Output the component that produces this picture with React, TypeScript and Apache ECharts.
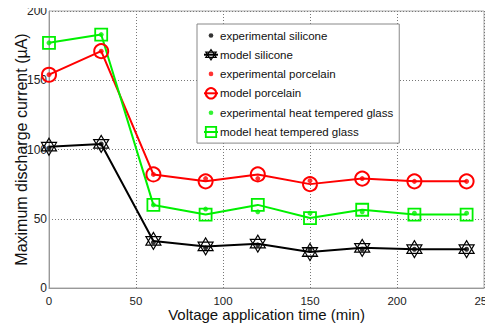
import React, { useEffect, useRef } from "react";
import * as echarts from "echarts";

const times = [0, 30, 60, 90, 120, 150, 180, 210, 240];
const expSilicone = [101, 104, 33, 29, 31, 28, 28, 28, 28];
const modelSilicone = [102, 104, 34, 30, 32, 26, 29, 28, 28];
const expPorcelain = [154, 171, 82, 79, 79, 77.5, 79, 77, 77];
const modelPorcelain = [154, 171, 82, 77, 82, 75, 79, 77, 77];
const expGlass = [177, 183, 60, 57, 55, 54, 55, 54, 54];
const modelGlass = [177, 183, 60, 53, 60, 50.5, 56.5, 53, 53];
const xTicks = [0, 50, 100, 150, 200, 250];
const yTicks = [0, 50, 100, 150, 200];

const STAR = "path://M0,-10 L8.66,5 L-8.66,5 Z M0,10 L8.66,-5 L-8.66,-5 Z";
const DOT_ICON =
  "path://M0,0 M14,14 M9.5,7 A2.5,2.5 0 1 1 4.5,7 A2.5,2.5 0 1 1 9.5,7 Z";

const BLACK = "#000";
const RED = "#ff0000";
const GREEN = "#00f000";
const CLEAR = "rgba(255,255,255,0)";

const pairs = (ys: number[]) => times.map((t, i) => [t, ys[i]]);

export default function App() {
  const ref = useRef<HTMLDivElement>(null);
  useEffect(() => {
    if (!ref.current) return;
    const chart = echarts.init(ref.current, null, { renderer: "svg" });
    const font = "Arial, 'Liberation Sans', sans-serif";
    const expSeries = (name: string, ys: number[], color: string) => ({
      name,
      type: "scatter",
      data: pairs(ys),
      symbol: "circle",
      symbolSize: 5,
      itemStyle: { color },
      z: 5,
    });
    const modelSeries = (
      name: string,
      ys: number[],
      color: string,
      symbol: string,
      size: any,
      bw: number
    ) => ({
      name,
      type: "line",
      data: pairs(ys),
      symbol,
      symbolSize: size,
      showAllSymbol: true,
      lineStyle: { color, width: 2 },
      itemStyle: { color: CLEAR, borderColor: color, borderWidth: bw },
      z: 3,
    });
    chart.setOption({
      animation: false,
      backgroundColor: "#fff",
      grid: {
        left: 49,
        right: 9,
        top: 11,
        bottom: 39,
        outerBoundsMode: "none",
        containLabel: false,
        show: true,
        borderColor: "#aaa",
        borderWidth: 1,
      },
      xAxis: {
        type: "value",
        min: 0,
        max: 250,
        interval: 50,
        name: "Voltage application time (min)",
        nameLocation: "middle",
        nameGap: 19,
        nameMoveOverlap: false,
        nameTextStyle: { fontFamily: font, fontSize: 15, color: "#111" },
        axisLine: { show: true, lineStyle: { color: "#999" } },
        axisTick: { show: false },
        axisLabel: {
          fontFamily: font,
          fontSize: 11.5,
          color: "#222",
          margin: 7,
          formatter: (v: number) => (xTicks.includes(v) ? String(v) : ""),
        },
        splitLine: {
          show: true,
          lineStyle: { type: [1, 2], color: "#777", width: 1 },
        },
      },
      yAxis: {
        type: "value",
        min: 0,
        max: 200,
        interval: 50,
        name: "Maximum discharge current (\u00b5A)",
        nameLocation: "middle",
        nameGap: 20,
        nameMoveOverlap: false,
        nameTextStyle: { fontFamily: font, fontSize: 16, color: "#111" },
        axisLine: { show: true, lineStyle: { color: "#999" } },
        axisTick: { show: false },
        axisLabel: {
          fontFamily: font,
          fontSize: 12,
          color: "#222",
          margin: 2,
          formatter: (v: number) => (yTicks.includes(v) ? String(v) : ""),
        },
        splitLine: {
          show: true,
          lineStyle: { type: [1, 2], color: "#777", width: 1 },
        },
      },
      legend: {
        orient: "vertical",
        left: 197,
        top: 24,
        padding: [5, 6, 5, 6],
        itemWidth: 14,
        itemHeight: 13,
        itemGap: 6.7,
        backgroundColor: "#fff",
        borderColor: "#888",
        borderWidth: 1,
        textStyle: {
          fontFamily: font,
          fontSize: 11.5,
          color: "#111",
          padding: [0, 0, 0, -3],
        },
        data: [
          { name: "experimental silicone", icon: DOT_ICON },
          {
            name: "model silicone",
            itemStyle: { color: CLEAR, borderColor: BLACK, borderWidth: 1.2 },
          },
          { name: "experimental porcelain", icon: DOT_ICON },
          {
            name: "model porcelain",
            itemStyle: { color: CLEAR, borderColor: RED, borderWidth: 2 },
          },
          { name: "experimental heat tempered glass", icon: DOT_ICON },
          {
            name: "model heat tempered glass",
            itemStyle: { color: CLEAR, borderColor: GREEN, borderWidth: 1.8 },
          },
        ],
      },
      series: [
        modelSeries("model silicone", modelSilicone, BLACK, STAR, [15, 17], 1.2),
        modelSeries("model porcelain", modelPorcelain, RED, "circle", 14, 2),
        modelSeries("model heat tempered glass", modelGlass, GREEN, "rect", 12, 1.8),
        expSeries("experimental silicone", expSilicone, BLACK),
        expSeries("experimental porcelain", expPorcelain, RED),
        expSeries("experimental heat tempered glass", expGlass, GREEN),
      ],
    });
    return () => chart.dispose();
  }, []);
  return <div ref={ref} style={{ width: 493, height: 327, marginLeft: -8, marginTop: -8 }} />;
}
